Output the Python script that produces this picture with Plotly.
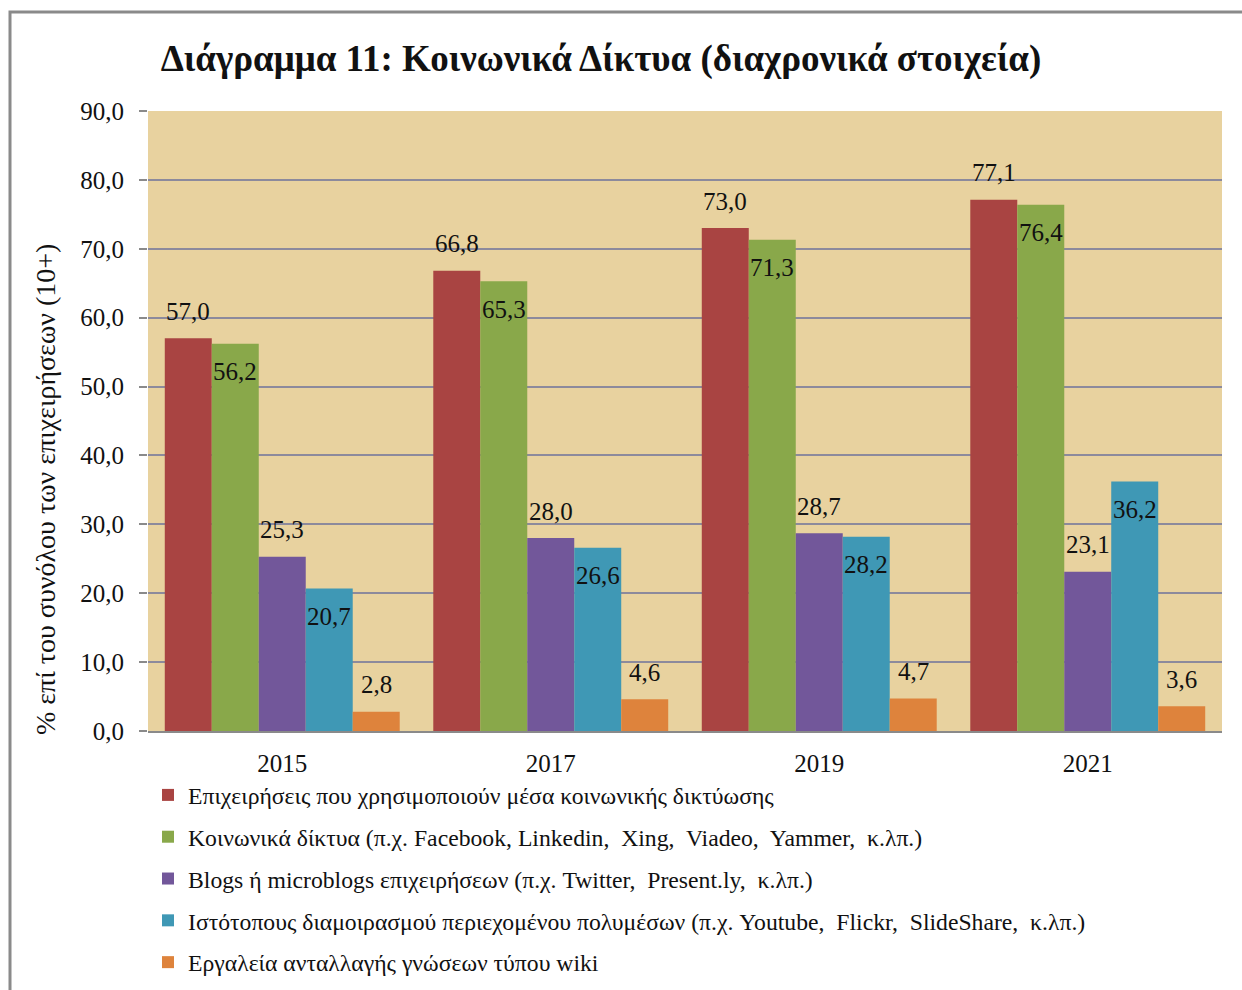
import plotly.graph_objects as go

years = ["2015", "2017", "2019", "2021"]
series_names = [
    "Επιχειρήσεις που χρησιμοποιούν μέσα κοινωνικής δικτύωσης",
    "Κοινωνικά δίκτυα (π.χ. Facebook, Linkedin,  Xing,  Viadeo,  Yammer,  κ.λπ.)",
    "Blogs ή microblogs επιχειρήσεων (π.χ. Twitter,  Present.ly,  κ.λπ.)",
    "Ιστότοπους διαμοιρασμού περιεχομένου πολυμέσων (π.χ. Youtube,  Flickr,  SlideShare,  κ.λπ.)",
    "Εργαλεία ανταλλαγής γνώσεων τύπου wiki",
]
social_media = [57.0, 66.8, 73.0, 77.1]
social_networks = [56.2, 65.3, 71.3, 76.4]
blogs = [25.3, 28.0, 28.7, 23.1]
multimedia = [20.7, 26.6, 28.2, 36.2]
wiki = [2.8, 4.6, 4.7, 3.6]
values = [social_media, social_networks, blogs, multimedia, wiki]

colors = ["#A94442", "#89A84A", "#72579A", "#3F98B5", "#DE833C"]
label_inside = [False, True, False, True, False]

FONT = "Liberation Serif, Times New Roman, serif"
W, H = 1242, 990
ML, MR, MT, MB = 148, 20, 111, 259
plot_w = W - ML - MR
plot_h = H - MT - MB
bargap = 0.125
cat_w = plot_w / len(years)
bar_w = cat_w * (1 - bargap) / len(values)

fig = go.Figure()
for i, (name, vals, col) in enumerate(zip(series_names, values, colors)):
    fig.add_trace(go.Bar(
        x=years, y=vals, name=name, marker=dict(color=col, line=dict(width=0)),
        legendgroup=f"g{i}",
    ))
    for j, v in enumerate(vals):
        fig.add_annotation(
            x=j, y=v, xref="x", yref="y",
            text=f"{v:.1f}".replace(".", ","),
            showarrow=False,
            xshift=(i - (len(values) - 1) / 2) * bar_w,
            yshift=-28 if label_inside[i] else 27,
            font=dict(family=FONT, size=25, color="#111111"),
        )

def px_to_paper_x(px):
    return (px - ML) / plot_w

def px_to_paper_y(py):
    return 1 - (py - MT) / plot_h

# outer frame
fig.add_shape(type="rect", xref="paper", yref="paper",
              x0=px_to_paper_x(10), x1=px_to_paper_x(1260),
              y0=px_to_paper_y(1010), y1=px_to_paper_y(12),
              line=dict(color="#8A8A8A", width=3), layer="below")

# y-axis title
fig.add_annotation(
    x=px_to_paper_x(45), y=px_to_paper_y(490), xref="paper", yref="paper",
    xanchor="center", yanchor="middle",
    text="% επί του συνόλου των επιχειρήσεων (10+)", showarrow=False, textangle=-90,
    font=dict(family=FONT, size=28, color="#111111"),
)

fig.update_layout(
    width=W, height=H,
    margin=dict(l=ML, r=MR, t=MT, b=MB, autoexpand=False),
    paper_bgcolor="white",
    plot_bgcolor="#E8D29F",
    barmode="group", bargap=bargap, bargroupgap=0,
    separators=",.",
    title=dict(
        text="<b>Διάγραμμα 11: Κοινωνικά Δίκτυα (διαχρονικά στοιχεία)</b>",
        x=601 / W, xanchor="center", xref="container",
        y=1 - 58 / H, yref="container", yanchor="middle",
        font=dict(family=FONT, size=37, color="#111111"),
    ),
    font=dict(family=FONT, color="#111111"),
    legend=dict(
        x=0.0, xanchor="left", y=px_to_paper_y(773), yanchor="top",
        orientation="v", traceorder="grouped", tracegroupgap=8,
        font=dict(family=FONT, size=23.7, color="#111111"),
        bgcolor="rgba(0,0,0,0)", itemwidth=30,
    ),
    showlegend=True,
)
fig.update_xaxes(
    type="category", range=[-0.5, len(years) - 0.5], autorange=False,
    showgrid=False, showline=True, linecolor="#8A8A8A", linewidth=2,
    ticks="", ticklabelstandoff=9,
    tickfont=dict(family=FONT, size=25, color="#111111"),
)
fig.update_yaxes(
    range=[0, 90], autorange=False, dtick=10, tickformat=".1f",
    showgrid=True, gridcolor="#8C8A9C", gridwidth=2,
    zeroline=False, showline=False,
    ticks="outside", ticklen=8, tickcolor="#8A8A8A", tickwidth=2,
    ticklabelstandoff=10,
    tickfont=dict(family=FONT, size=25, color="#111111"),
)

fig.write_html("out.html", config={"displayModeBar": False},
               post_script="document.body.style.margin='0px';")
